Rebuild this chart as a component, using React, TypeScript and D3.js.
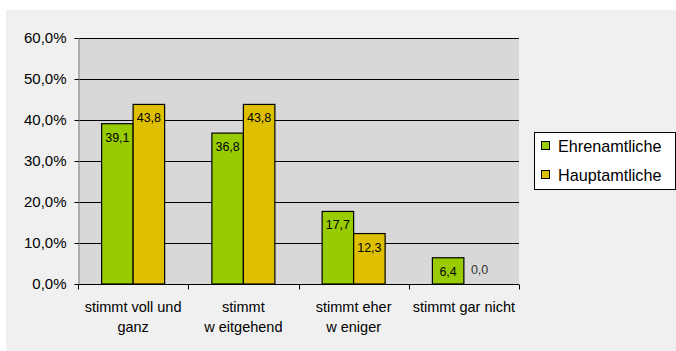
import { useEffect, useRef } from "react";
import * as d3 from "d3";

// Werte (Prozent)
const categories = [
  ["stimmt voll und", "ganz"],
  ["stimmt", "w eitgehend"],
  ["stimmt eher", "w eniger"],
  ["stimmt gar nicht"],
];
const seriesNames = ["Ehrenamtliche", "Hauptamtliche"];
const ehrenamtliche = [39.1, 36.8, 17.7, 6.4];
const hauptamtliche = [43.8, 43.8, 12.3, 0.0];
const yTicks = [0, 10, 20, 30, 40, 50, 60];
const colors = ["#99cc00", "#dfc000"];

export default function App() {
  const svgRef = useRef<SVGSVGElement>(null);

  useEffect(() => {
    document.body.style.margin = "0";
    const width = 676;
    const height = 351;
    const plot = { left: 78, top: 38, right: 519, bottom: 284 };
    const font = "'Liberation Sans', Arial, sans-serif";

    const svg = d3.select(svgRef.current)
      .attr("width", width)
      .attr("height", height);
    svg.selectAll("*").remove();

    svg.append("rect")
      .attr("width", width)
      .attr("height", height)
      .attr("fill", "white");

    // grauer Hintergrund des Diagramms
    svg.append("rect")
      .attr("x", 6)
      .attr("y", 10)
      .attr("width", width - 6)
      .attr("height", height - 10)
      .attr("fill", "#f0f0f0");

    const x = d3.scaleBand<number>()
      .domain(d3.range(categories.length))
      .range([plot.left, plot.right]);

    const x1 = d3.scaleBand<number>()
      .domain([0, 1])
      .range([0, x.bandwidth()])
      .paddingInner(0)
      .paddingOuter(0.75);

    const y = d3.scaleLinear()
      .domain([0, 60])
      .range([plot.bottom, plot.top]);

    svg.append("rect")
      .attr("x", plot.left)
      .attr("y", plot.top)
      .attr("width", plot.right - plot.left)
      .attr("height", plot.bottom - plot.top)
      .attr("fill", "#d8d8d8");

    // Gitternetzlinien
    svg.append("g")
      .selectAll("line")
      .data(yTicks.filter(d => d > 0))
      .join("line")
      .attr("x1", plot.left)
      .attr("x2", plot.right)
      .attr("y1", d => Math.round(y(d)) + 0.5)
      .attr("y2", d => Math.round(y(d)) + 0.5)
      .attr("stroke", "#000")
      .attr("stroke-width", 1);

    // y-Achse
    const yAxis = svg.append("g")
      .attr("transform", `translate(${plot.left + 0.5},0)`)
      .call(d3.axisLeft(y)
        .tickValues(yTicks)
        .tickSize(4)
        .tickPadding(8)
        .tickFormat(d => d3.format(".1f")(+d).replace(".", ",") + "%"));
    yAxis.select(".domain").attr("stroke", "#808080");
    yAxis.selectAll(".tick line").attr("stroke", "#000");
    yAxis.selectAll("text")
      .attr("font-family", font)
      .attr("font-size", 15)
      .attr("fill", "#000");

    // Balken
    const series = [ehrenamtliche, hauptamtliche];
    series.forEach((vals, si) => {
      const g = svg.append("g");
      g.selectAll("rect")
        .data(vals)
        .join("rect")
        .attr("x", (_, i) => (x(i) ?? 0) + (x1(si) ?? 0))
        .attr("y", d => y(d))
        .attr("width", x1.bandwidth())
        .attr("height", d => y(0) - y(d))
        .attr("fill", colors[si])
        .attr("stroke", d => (d > 0 ? "#000" : "none"))
        .attr("stroke-width", 1.2);

      g.selectAll("text")
        .data(vals)
        .join("text")
        .attr("x", (_, i) => (x(i) ?? 0) + (x1(si) ?? 0) + x1.bandwidth() / 2)
        .attr("y", d => (d > 0 ? y(d) + 18 : y(d) - 10))
        .attr("text-anchor", "middle")
        .attr("font-family", font)
        .attr("font-size", 12.5)
        .attr("fill", d => (d > 0 ? "#000" : "#333"))
        .text(d => d3.format(".1f")(d).replace(".", ","));
    });

    // x-Achse
    const xAxis = svg.append("g")
      .attr("transform", `translate(0,${plot.bottom + 0.5})`);
    xAxis.append("line")
      .attr("x1", plot.left)
      .attr("x2", plot.right)
      .attr("stroke", "#000");
    xAxis.selectAll(".tick")
      .data(d3.range(categories.length + 1))
      .join("line")
      .attr("x1", i => Math.round(plot.left + i * x.step()) + 0.5)
      .attr("x2", i => Math.round(plot.left + i * x.step()) + 0.5)
      .attr("y1", 0)
      .attr("y2", 5)
      .attr("stroke", "#000");

    svg.append("g")
      .selectAll("text")
      .data(categories)
      .join("text")
      .attr("x", (_, i) => (x(i) ?? 0) + x.bandwidth() / 2)
      .attr("y", 312)
      .attr("text-anchor", "middle")
      .attr("font-family", font)
      .attr("font-size", 14.5)
      .attr("fill", "#000")
      .selectAll("tspan")
      .data(d => d)
      .join("tspan")
      .attr("x", function () {
        return (this.parentNode as SVGTextElement).getAttribute("x");
      })
      .attr("dy", (_, j) => (j === 0 ? 0 : 20))
      .text(d => d);

    // Legende
    const legend = svg.append("g");
    legend.append("rect")
      .attr("x", 534.5)
      .attr("y", 132.5)
      .attr("width", 141)
      .attr("height", 57)
      .attr("fill", "white")
      .attr("stroke", "#000");
    seriesNames.forEach((name, i) => {
      const ly = 146 + i * 29;
      legend.append("rect")
        .attr("x", 541.5)
        .attr("y", ly - 4.5)
        .attr("width", 8)
        .attr("height", 8)
        .attr("fill", colors[i])
        .attr("stroke", "#000");
      legend.append("text")
        .attr("x", 558)
        .attr("y", ly + 6)
        .attr("font-family", font)
        .attr("font-size", 16.2)
        .attr("fill", "#000")
        .text(name);
    });
  }, []);

  return <svg ref={svgRef} style={{ display: "block" }}></svg>;
}
